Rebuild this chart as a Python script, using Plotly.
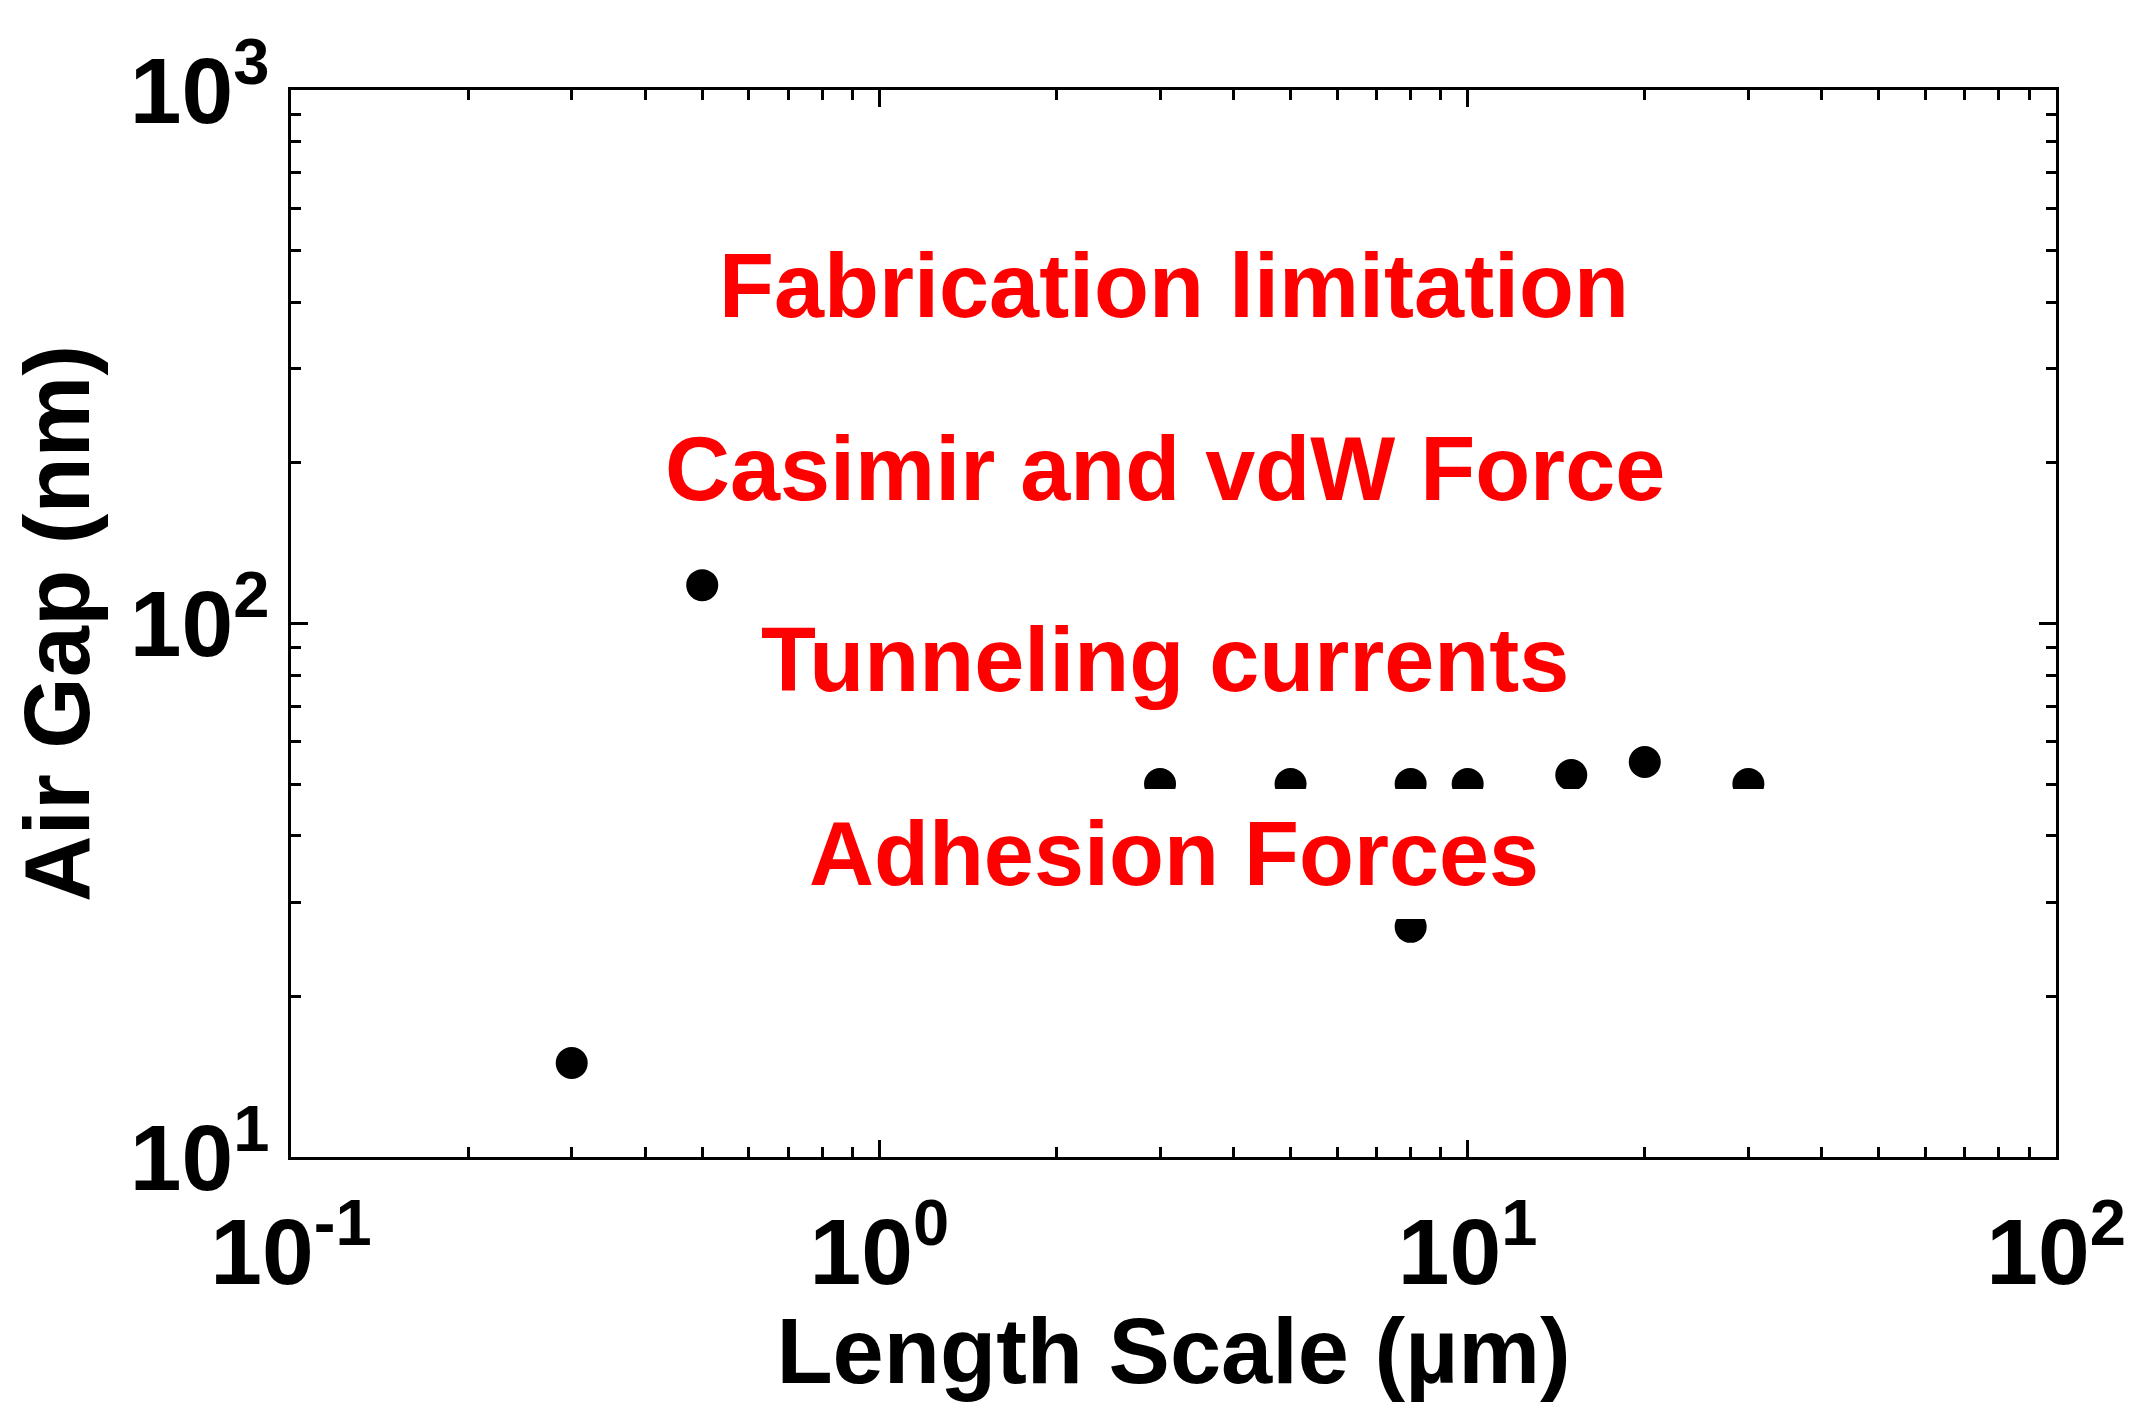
import plotly.graph_objects as go

# Measured devices: characteristic length scale vs. air gap
length_um = [0.3, 0.5, 3, 5, 8, 10, 15, 20, 30, 8]
gap_nm = [15, 118, 50, 50, 50, 50, 52, 55, 50, 27]

# Decade tick labels
x_major = [0.1, 1, 10, 100]
x_major_text = ["10<sup>-1</sup>", "10<sup>0</sup>", "10<sup>1</sup>", "10<sup>2</sup>"]
y_major = [10, 100, 1000]
y_major_text = ["10<sup>1</sup>", "10<sup>2</sup>", "10<sup>3</sup>"]

# Limiting-mechanism labels, top to bottom
region_labels = ["Fabrication limitation", "Casimir and vdW Force",
                 "Tunneling currents", "Adhesion Forces"]
region_label_x = [0.5, 0.495, 0.495, 0.5]
region_label_y = [0.816, 0.645, 0.466, 0.284]

FONT = "Liberation Sans, Arial, sans-serif"

x_minor = [m * 10.0 ** e for e in (-1, 0, 1) for m in range(2, 10)]
y_minor = [m * 10.0 ** e for e in (1, 2) for m in range(2, 10)]

fig = go.Figure()
fig.add_trace(go.Scatter(
    x=length_um, y=gap_nm, mode="markers",
    marker=dict(color="black", size=32, line=dict(width=0)),
    showlegend=False, hoverinfo="x+y",
))

axis_common = dict(
    type="log",
    showline=True, linecolor="black", linewidth=3,
    mirror="ticks", ticks="inside", ticklen=17, tickwidth=3, tickcolor="black",
    showgrid=False, zeroline=False,
    tickfont=dict(family=FONT, size=93, color="black", weight="bold"),
    automargin=False,
)

fig.update_xaxes(
    **axis_common,
    range=[-1, 2],
    tickmode="array", tickvals=x_major, ticktext=x_major_text,
    ticklabelstandoff=12,
    minor=dict(ticks="inside", ticklen=10, tickwidth=3, tickcolor="black",
               tickmode="array", tickvals=x_minor, showgrid=False),
    title=dict(text="Length Scale (µm)", standoff=4,
               font=dict(family=FONT, size=92, color="black", weight="bold")),
)
fig.update_yaxes(
    **axis_common,
    range=[1, 3],
    tickmode="array", tickvals=y_major, ticktext=y_major_text,
    minor=dict(ticks="inside", ticklen=10, tickwidth=3, tickcolor="black",
               tickmode="array", tickvals=y_minor, showgrid=False),
    title=dict(text="Air Gap (nm)", standoff=10,
               font=dict(family=FONT, size=92, color="black", weight="bold")),
)

for i, (label, xpos, ypos) in enumerate(zip(region_labels, region_label_x, region_label_y)):
    ann = dict(
        text=label, xref="paper", yref="paper", x=xpos, y=ypos,
        xanchor="center", yanchor="middle", showarrow=False,
        font=dict(family=FONT, size=90, color="#ff0000", weight="bold"),
    )
    if i == len(region_labels) - 1:
        ann.update(bgcolor="white", width=1220, height=130,
                   borderpad=0, borderwidth=0)
    fig.add_annotation(**ann)

fig.update_layout(
    width=2131, height=1402,
    margin=dict(l=291, r=75, t=90, b=245),
    paper_bgcolor="white", plot_bgcolor="white",
)

fig.write_html("out.html")
